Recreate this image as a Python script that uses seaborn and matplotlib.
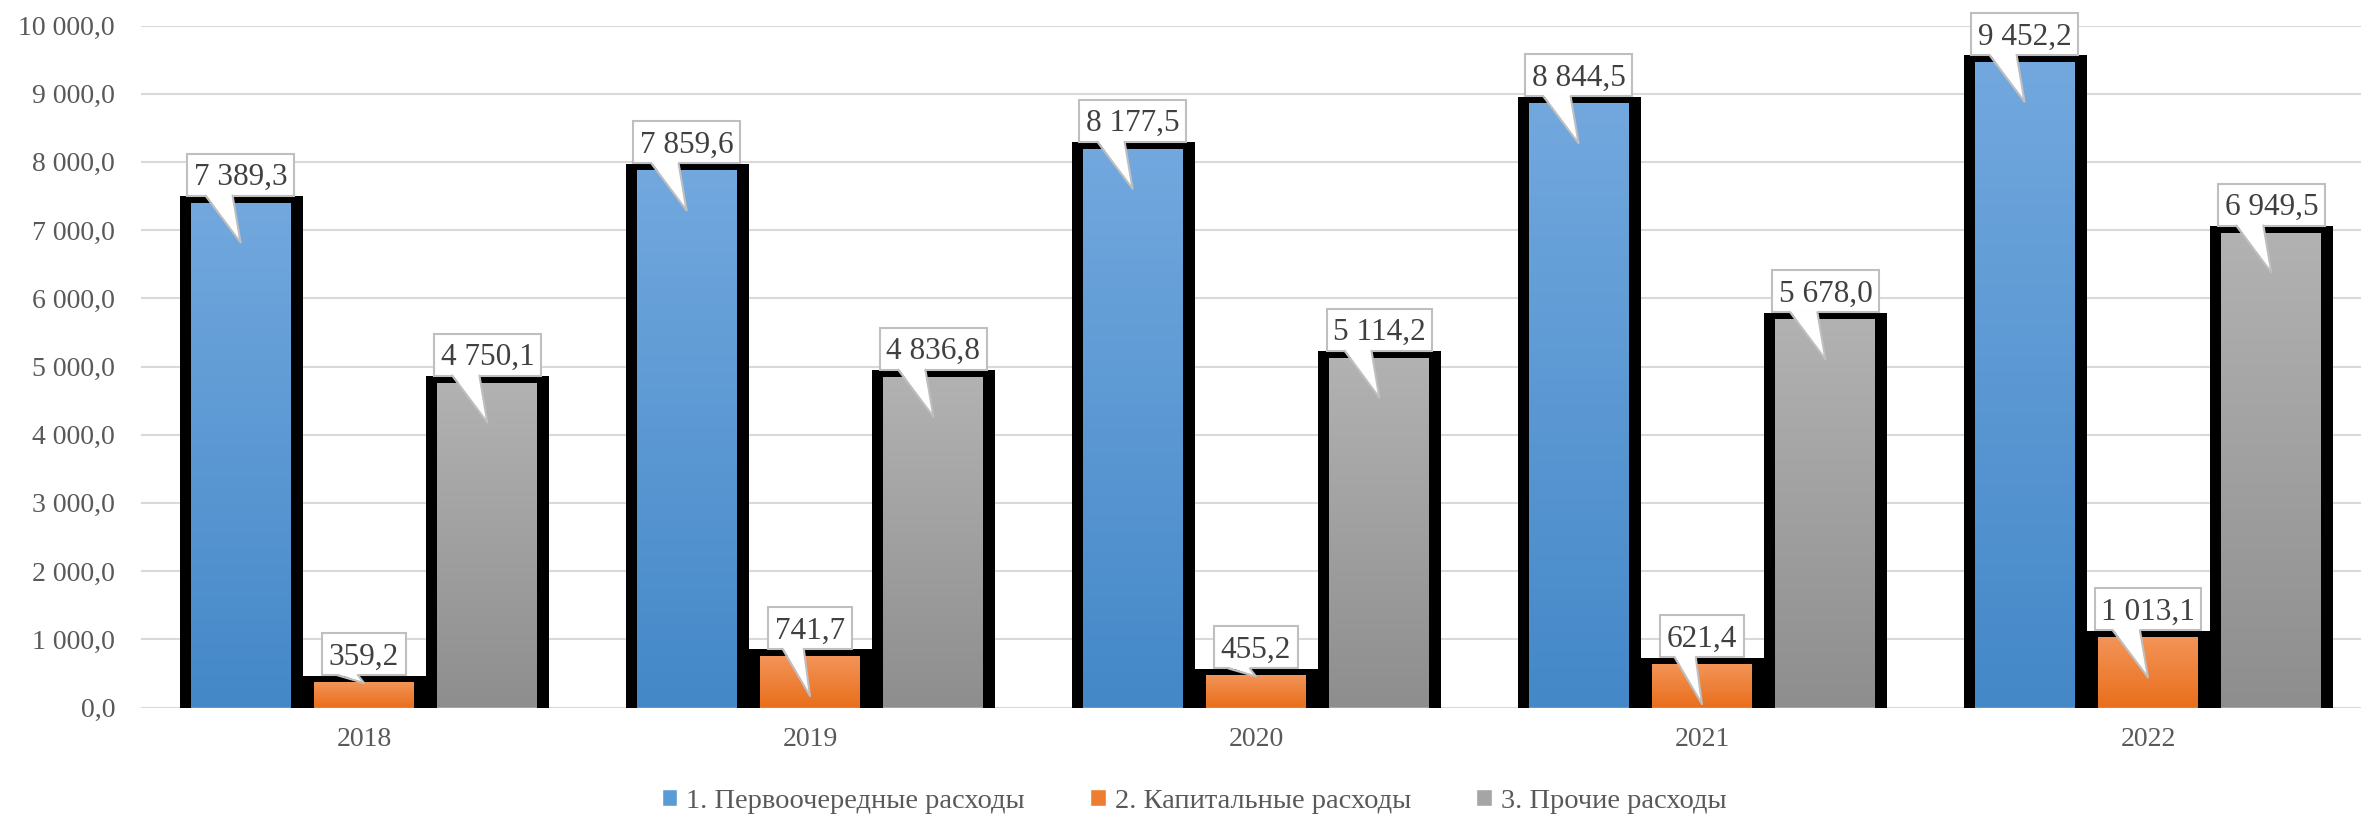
import matplotlib
matplotlib.use("Agg")
import matplotlib.pyplot as plt
import matplotlib.patheffects as pe
import matplotlib.transforms as mtransforms
from matplotlib.colors import LinearSegmentedColormap
from matplotlib.patches import Patch, Rectangle, Polygon
from matplotlib.lines import Line2D
import numpy as np
import pandas as pd
import seaborn as sns

# data
years = ["2018", "2019", "2020", "2021", "2022"]
series = ["1. Первоочередные расходы", "2. Капитальные расходы", "3. Прочие расходы"]
priority = [7389.3, 7859.6, 8177.5, 8844.5, 9452.2]
capital = [359.2, 741.7, 455.2, 621.4, 1013.1]
other = [4750.1, 4836.8, 5114.2, 5678.0, 6949.5]
y_ticks = [0, 1000, 2000, 3000, 4000, 5000, 6000, 7000, 8000, 9000, 10000]

colors_top = ["#72A8DE", "#F39458", "#B2B2B2"]
colors_bottom = ["#4488C8", "#E96F1C", "#8E8E8E"]
colors_mid = ["#5B9BD5", "#ED7D31", "#A5A5A5"]

values = [priority, capital, other]
df = pd.DataFrame({
    "year": years * 3,
    "series": np.repeat(series, len(years)),
    "value": priority + capital + other,
})


def fmt(v):
    return f"{v:,.1f}".replace(",", " ").replace(".", ",")


sns.set_theme(style="white")
plt.rcParams["font.family"] = ["Liberation Serif", "DejaVu Serif"]

W, H = 2361, 818
fig = plt.figure(figsize=(W / 100, H / 100), dpi=100)
ax = fig.add_axes([141 / W, 110.5 / H, (2371 - 141) / W, (707.5 - 25.5) / H])

sns.barplot(data=df, x="year", y="value", hue="series", order=years, hue_order=series,
            palette=colors_mid, width=0.83, gap=0.19, saturation=1, errorbar=None,
            linewidth=0, legend=False, ax=ax)

# thick black outline around each bar, plus a vertical gradient fill
stroke = [pe.Stroke(linewidth=23 * 0.72, foreground="black", offset=(0, -3.5 * 0.72)), pe.Normal()]
grad = np.linspace(0, 1, 256).reshape(-1, 1)
for i, container in enumerate(ax.containers):
    cmap = LinearSegmentedColormap.from_list(f"g{i}", [colors_bottom[i], colors_top[i]])
    for patch in container.patches:
        patch.set_edgecolor("none")
        patch.set_path_effects(stroke)
        x0 = patch.get_x()
        x1 = x0 + patch.get_width()
        ax.imshow(grad, extent=[x0, x1, 0, patch.get_height()], origin="lower",
                  aspect="auto", cmap=cmap, zorder=2.5, interpolation="bilinear")

ax.set_xlim(-0.5, len(years) - 0.5)
ax.set_ylim(0, 10000)
ax.set_yticks(y_ticks)
ax.set_yticklabels([fmt(v) for v in y_ticks])
ax.tick_params(axis="y", length=0, pad=18.7, labelsize=20, labelcolor="#595959")
ax.tick_params(axis="x", length=0, pad=14, labelsize=20, labelcolor="#595959")
ax.grid(axis="y", color="#D9D9D9", linewidth=1.5)
ax.set_axisbelow(True)
for s in ax.spines.values():
    s.set_visible(False)
ax.set_xlabel("")
ax.set_ylabel("")

# callout labels
fig.canvas.draw()
renderer = fig.canvas.get_renderer()
ident = mtransforms.IdentityTransform()
box_h = 42
for container, vals in zip(ax.containers, values):
    for patch, v in zip(container.patches, vals):
        cx = patch.get_x() + patch.get_width() / 2
        cx_px, top_px = ax.transData.transform((cx, v))
        _, zero_px = ax.transData.transform((cx, 0))
        box_bottom = top_px + 8
        txt = fig.text(cx_px, box_bottom + box_h / 2 - 10.5, fmt(v), transform=ident,
                       ha="center", va="baseline", fontsize=22.5, color="#404040", zorder=12)
        box_w = txt.get_window_extent(renderer).width + 13
        fig.add_artist(Rectangle((cx_px - box_w / 2, box_bottom), box_w, box_h, transform=ident,
                                 facecolor="white", edgecolor="#BFBFBF", linewidth=1.5, zorder=10))
        tip_y = box_bottom - 47
        if tip_y < zero_px:
            tip_y = top_px
        bl = cx_px - 0.33 * box_w
        br = cx_px - 0.075 * box_w
        fig.add_artist(Polygon([(bl, box_bottom + 1.5), (cx_px, tip_y), (br, box_bottom + 1.5)],
                               closed=True, transform=ident, facecolor="white",
                               edgecolor="none", zorder=11))
        fig.add_artist(Line2D([bl, cx_px, br], [box_bottom, tip_y, box_bottom], transform=ident,
                              color="#BFBFBF", linewidth=1.5, zorder=11))

handles = [Patch(facecolor=c) for c in colors_mid]
fig.legend(handles=handles, labels=series, loc="center", bbox_to_anchor=(1194 / W, 17 / H),
           ncol=3, frameon=False, fontsize=20.5, handlelength=0.56, handleheight=0.56,
           handletextpad=0.3, columnspacing=2.3, labelcolor="#595959")

fig.savefig("out.png", dpi=100)
plt.close(fig)
